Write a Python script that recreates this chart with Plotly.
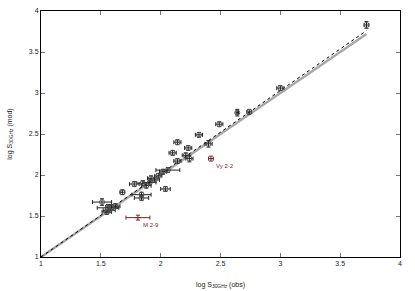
import plotly.graph_objects as go

# Data points: observed vs model log flux
x_obs = [3.72, 3.00, 2.64, 2.74, 2.49, 2.32, 2.40, 2.14, 2.10, 2.23, 2.21, 2.24, 2.14,
         2.06, 2.04, 2.02, 1.95, 1.91, 1.85, 1.78, 1.88, 1.84, 1.84, 1.68, 1.51, 1.56,
         1.57, 1.55, 1.59, 1.62, 1.92, 1.98]
y_mod = [3.83, 3.06, 2.76, 2.77, 2.62, 2.49, 2.38, 2.40, 2.27, 2.33, 2.24, 2.20, 2.17,
         2.06, 1.83, 2.04, 1.94, 1.91, 1.90, 1.89, 1.87, 1.76, 1.72, 1.79, 1.67, 1.60,
         1.57, 1.55, 1.61, 1.62, 1.96, 1.99]
x_err = [0.02, 0.03, 0.01, 0.02, 0.03, 0.03, 0.03, 0.03, 0.03, 0.03, 0.03, 0.03, 0.03,
         0.10, 0.04, 0.03, 0.04, 0.05, 0.05, 0.04, 0.04, 0.08, 0.06, 0.02, 0.08, 0.09,
         0.05, 0.04, 0.05, 0.04, 0.03, 0.03]
y_err = [0.04, 0.03, 0.04, 0.03, 0.03, 0.03, 0.04, 0.03, 0.03, 0.03, 0.03, 0.04, 0.03,
         0.03, 0.03, 0.03, 0.03, 0.03, 0.03, 0.03, 0.03, 0.03, 0.03, 0.03, 0.04, 0.04,
         0.03, 0.03, 0.03, 0.03, 0.03, 0.03]

# Outliers
out_names = ["M 2-9", "Vy 2-2"]
out_x = [1.81, 2.42]
out_y = [1.48, 2.20]
out_xerr = [0.10, 0.02]
out_yerr = [0.03, 0.03]

# Fitted lines
line_x = [1.0, 3.72]
fit_y = [1.0, 3.76]
ref_y = [1.0, 3.72]

ticks = [1, 1.5, 2, 2.5, 3, 3.5, 4]
tick_text = ["1", "1.5", "2", "2.5", "3", "3.5", "4"]

red = "#7a2525"
font_fam = "Liberation Sans"
fig = go.Figure()
fig.add_trace(go.Scatter(x=line_x, y=ref_y, mode="lines",
                         line=dict(color="#a8a8a8", width=2.5), showlegend=False))
fig.add_trace(go.Scatter(x=line_x, y=fit_y, mode="lines",
                         line=dict(color="#000000", width=1, dash="dot"), showlegend=False))
fig.add_trace(go.Scatter(
    x=x_obs, y=y_mod, mode="markers",
    marker=dict(symbol="circle-open", size=5, color="#555555", line=dict(width=1)),
    error_x=dict(type="data", array=x_err, color="#222222", thickness=1, width=2),
    error_y=dict(type="data", array=y_err, color="#222222", thickness=1, width=2),
    showlegend=False))
fig.add_trace(go.Scatter(
    x=out_x, y=out_y, mode="markers",
    marker=dict(symbol="line-ew", size=4, color=red, line=dict(width=1, color=red)),
    error_x=dict(type="data", array=out_xerr, color=red, thickness=1, width=2),
    error_y=dict(type="data", array=out_yerr, color=red, thickness=1, width=2),
    showlegend=False))
for nm, xx, yy in zip(out_names, out_x, out_y):
    fig.add_annotation(x=xx, y=yy, text=nm, showarrow=False, xanchor="left", yanchor="top",
                       xshift=3, yshift=-2, font=dict(size=6, color=red, family=font_fam))

axis_common = dict(range=[1, 4], tickvals=ticks, ticktext=tick_text, showgrid=False,
                   zeroline=False, showline=True, linecolor="black", linewidth=1,
                   mirror="ticks", ticks="inside", ticklen=4, tickcolor="#777777",
                   automargin=False,
                   tickfont=dict(size=7, family=font_fam, color="#222"))
fig.update_xaxes(**axis_common,
                 title=dict(text="log S<sub>30GHz</sub> (obs)",
                            font=dict(size=7, family=font_fam, color="#222")))
fig.update_yaxes(**axis_common,
                 title=dict(text="log S<sub>30GHz</sub> (mod)",
                            font=dict(size=7, family=font_fam, color="#222")))
fig.update_layout(width=415, height=291, margin=dict(l=41, r=15, t=11, b=34),
                  plot_bgcolor="white", paper_bgcolor="white")
fig.write_html("out.html", config={"displayModeBar": False},
               post_script="document.body.style.margin='0';")
